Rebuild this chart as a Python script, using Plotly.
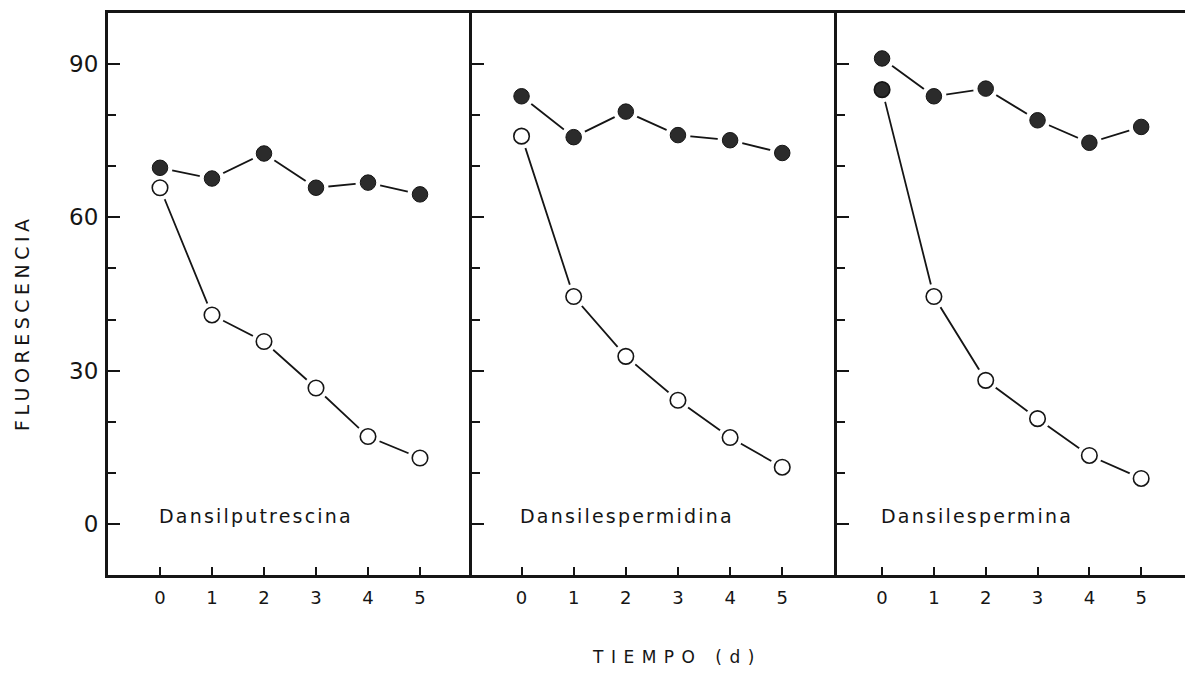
import plotly.graph_objects as go

days = [0, 1, 2, 3, 4, 5]
panel_names = ["Dansilputrescina", "Dansilespermidina", "Dansilespermina"]

# filled circles (control)
filled_putrescina = [69.7, 67.6, 72.5, 65.8, 66.8, 64.5]
filled_espermidina = [83.7, 75.7, 80.7, 76.1, 75.1, 72.6]
filled_espermina = [91.1, 83.7, 85.2, 79.0, 74.6, 77.7]

# open circles (treated)
open_putrescina = [65.8, 40.9, 35.7, 26.6, 17.1, 12.9]
open_espermidina = [75.9, 44.5, 32.8, 24.2, 16.9, 11.1]
open_espermina = [85.0, 44.5, 28.1, 20.6, 13.4, 8.9]
# first point of the last open series is drawn filled in the original
open_first_filled = [False, False, True]

filled_series = [filled_putrescina, filled_espermidina, filled_espermina]
open_series = [open_putrescina, open_espermidina, open_espermina]

y_major = [0, 30, 60, 90]
y_minor = [10, 20, 40, 50, 70, 80]
x_ranges = [[-1.0, 6.0], [-0.95, 6.05], [-0.87, 6.0]]

OFF = 8  # page body margin
W, H = 1193 - OFF, 674 - OFF
ml, mr, mt = 108 - OFF, 0, 13 - OFF
mb = H - (575 - OFF)
pw = W - ml - mr
ph = H - mt - mb
edges = [108 - OFF, 472 - OFF, 837 - OFF, W]
domains = [[(edges[i] - ml) / pw, (edges[i + 1] - ml) / pw] for i in range(3)]

INK = "#151515"
FILL = "#2b2b2b"
FONT = "DejaVu Sans"

fig = go.Figure()

for i in range(3):
    xa = "x" if i == 0 else f"x{i+1}"
    ya = "y" if i == 0 else f"y{i+1}"
    f = filled_series[i]
    o = open_series[i]
    for s in (f, o):
        fig.add_trace(go.Scatter(x=days, y=s, mode="lines", xaxis=xa, yaxis=ya,
                                 line=dict(color=INK, width=1.8), hoverinfo="skip",
                                 showlegend=False))
    for s in (f, o):
        fig.add_trace(go.Scatter(x=days, y=s, mode="markers", xaxis=xa, yaxis=ya,
                                 marker=dict(color="white", size=25, line=dict(width=0)),
                                 hoverinfo="skip", showlegend=False))
    fig.add_trace(go.Scatter(x=days, y=f, mode="markers", xaxis=xa, yaxis=ya,
                             marker=dict(color=FILL, size=15.5, line=dict(color=INK, width=1)),
                             showlegend=False))
    ocolors = ["white"] * len(o)
    if open_first_filled[i]:
        ocolors[0] = FILL
    fig.add_trace(go.Scatter(x=days, y=o, mode="markers", xaxis=xa, yaxis=ya,
                             marker=dict(color=ocolors, size=15.5, line=dict(color=INK, width=1.6)),
                             showlegend=False))

layout = dict(
    width=W, height=H,
    margin=dict(l=ml, r=mr, t=mt, b=mb, pad=0),
    paper_bgcolor="white", plot_bgcolor="white",
    font=dict(family=FONT, color=INK),
    showlegend=False,
)

for i in range(3):
    xk = "xaxis" if i == 0 else f"xaxis{i+1}"
    yk = "yaxis" if i == 0 else f"yaxis{i+1}"
    xanchor = "y" if i == 0 else f"y{i+1}"
    yanchor = "x" if i == 0 else f"x{i+1}"
    layout[xk] = dict(
        domain=domains[i], range=x_ranges[i], anchor=xanchor,
        showgrid=False, zeroline=False,
        showline=True, linecolor=INK, linewidth=3, mirror=True,
        tickvals=days, ticktext=[str(d) for d in days],
        ticks="inside", ticklen=8, tickwidth=1.5, tickcolor=INK,
        tickfont=dict(size=18, color=INK, family=FONT),
        ticklabelstandoff=4,
    )
    layout[yk] = dict(
        domain=[0, 1], range=[-10, 100], anchor=yanchor,
        showgrid=False, zeroline=False,
        showline=True, linecolor=INK, linewidth=3,
        tickvals=y_major, ticktext=[str(v) for v in y_major],
        ticks="inside", ticklen=12, tickwidth=1.5, tickcolor=INK,
        showticklabels=(i == 0),
        tickfont=dict(size=23, color=INK, family=FONT),
        ticklabelstandoff=2,
        minor=dict(tickvals=y_minor, ticks="inside", ticklen=8, tickwidth=1.5, tickcolor=INK),
    )

fig.update_layout(**layout)

annotations = []
for i in range(3):
    xa = "x" if i == 0 else f"x{i+1}"
    ya = "y" if i == 0 else f"y{i+1}"
    annotations.append(dict(x=-0.06, y=1.6, xref=xa, yref=ya,
                            text=f'<span style="letter-spacing:2.2px">{panel_names[i]}</span>',
                            showarrow=False, xanchor="left", yanchor="middle",
                            font=dict(size=19, color=INK, family=FONT)))

# screen-pixel positions (centres) of the axis titles
x_title_px = (677, 657)
y_title_px = (22, 323)
annotations.append(dict(x=x_title_px[0] - OFF, y=H - (x_title_px[1] - OFF), xref="paper", yref="paper",
                        text='<span style="letter-spacing:7.5px">TIEMPO (d)</span>',
                        xanchor="center", yanchor="middle",
                        showarrow=False, font=dict(size=17, color=INK, family=FONT)))
annotations.append(dict(x=y_title_px[0] - OFF, y=H - (y_title_px[1] - OFF), xref="paper", yref="paper",
                        text='<span style="letter-spacing:4.5px">FLUORESCENCIA</span>',
                        xanchor="center", yanchor="middle",
                        textangle=-90, showarrow=False, font=dict(size=19, color=INK, family=FONT)))

for a in annotations:
    if a["xref"] == "paper":
        a["x"] = (a["x"] - ml) / pw
        a["y"] = (a["y"] - mb) / ph

fig.update_layout(annotations=annotations)

fig.write_html("out.html")
